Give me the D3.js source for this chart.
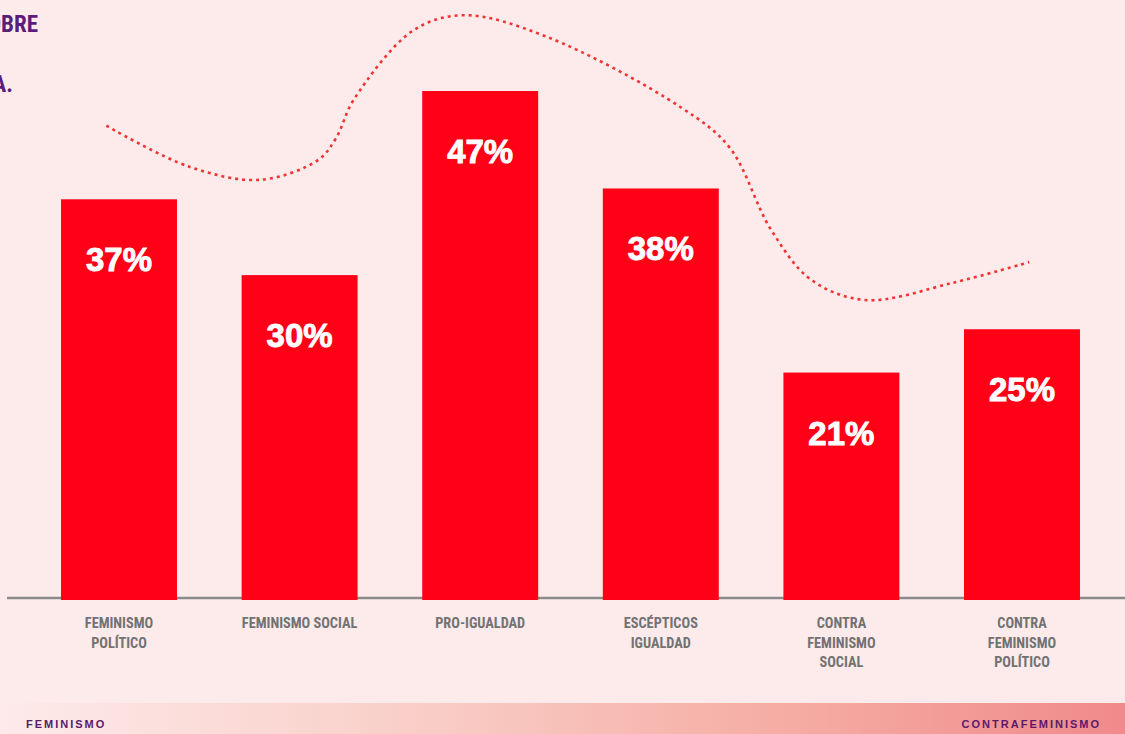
<!DOCTYPE html>
<html lang="es">
<head>
<meta charset="utf-8">
<script src="https://cdn.jsdelivr.net/npm/d3@7"></script>
<style>
  html, body { margin: 0; padding: 0; background: #fdebeb; overflow: hidden; }
  svg { display: block; }
  .narrow { font-family: "Liberation Sans Narrow", "Roboto Condensed", "DejaVu Sans Condensed", "Roboto", sans-serif; }
</style>
</head>
<body>
<svg id="chart" width="1125" height="734"></svg>
<script>
// Categories (one entry per bar, tick label lines)
const categories = ["fem_pol", "fem_soc", "pro_igu", "esc_igu", "contra_soc", "contra_pol"];
const tickLabels = [
  ["FEMINISMO", "POLÍTICO"],
  ["FEMINISMO SOCIAL"],
  ["PRO-IGUALDAD"],
  ["ESCÉPTICOS", "IGUALDAD"],
  ["CONTRA", "FEMINISMO", "SOCIAL"],
  ["CONTRA", "FEMINISMO", "POLÍTICO"]
];
// Share of respondents per profile (%)
const values = [37, 30, 47, 38, 21, 25];

// Decorative trend curve: position along the category axis (index) and level (%)
const trendIndex = [-0.07, 0.39, 0.78, 1.10, 1.20, 1.30, 1.63, 1.91, 2.37, 3.11, 3.38, 3.61, 3.83, 4.13, 4.62, 5.04];
const trendLevel = [43.8, 40.0, 38.8, 40.6, 42.6, 46.2, 52.6, 54.0, 52.0, 45.5, 41.8, 34.2, 29.6, 27.7, 29.3, 31.2];

const W = 1125, H = 734;
const svg = d3.select("#chart");

// Background
svg.append("rect").attr("width", W).attr("height", H).attr("fill", "#fdebeb");

// Scales
const x = d3.scaleBand()
  .domain(categories)
  .range([28.7, 1112.3])
  .paddingInner(0.358)
  .paddingOuter(0.179);

const y = d3.scaleLinear().domain([0, 47]).range([600, 91]);

const xIdx = d3.scaleLinear()
  .domain([0, categories.length - 1])
  .range([x(categories[0]) + x.bandwidth() / 2, x(categories[categories.length - 1]) + x.bandwidth() / 2]);

// Baseline
svg.append("line")
  .attr("x1", 7).attr("x2", W)
  .attr("y1", y(0) - 2).attr("y2", y(0) - 2)
  .attr("stroke", "#8a8a8a").attr("stroke-width", 2.5);

// Bars
svg.append("g").selectAll("rect")
  .data(values)
  .join("rect")
  .attr("x", (d, i) => x(categories[i]))
  .attr("y", d => y(d))
  .attr("width", x.bandwidth())
  .attr("height", d => y(0) - y(d))
  .attr("fill", "#ff0016");

// Value labels inside bars
svg.append("g").selectAll("text")
  .data(values)
  .join("text")
  .attr("x", (d, i) => x(categories[i]) + x.bandwidth() / 2)
  .attr("y", d => y(d) + 72)
  .attr("text-anchor", "middle")
  .attr("fill", "#ffffff")
  .attr("stroke", "#ffffff")
  .attr("stroke-width", 0.9)
  .attr("font-family", "'Liberation Sans', Arial, sans-serif")
  .attr("font-weight", "bold")
  .attr("font-size", 33)
  .text(d => d + "%");

// Trend curve (dotted)
const trend = trendIndex.map((t, i) => [xIdx(t), y(trendLevel[i])]);
svg.append("path")
  .datum(trend)
  .attr("d", d3.line().curve(d3.curveCatmullRom.alpha(0.5)))
  .attr("fill", "none")
  .attr("stroke", "#f03434")
  .attr("stroke-width", 2.6)
  .attr("stroke-dasharray", "3,4");

// Category axis labels
const xAxis = svg.append("g")
  .attr("transform", `translate(0,${y(0)})`)
  .call(d3.axisBottom(x).tickSize(0).tickFormat(""));
xAxis.select(".domain").remove();
xAxis.selectAll(".tick").each(function (d, i) {
  const t = d3.select(this).append("text")
    .attr("class", "narrow")
    .attr("text-anchor", "middle")
    .attr("fill", "#727272")
    .attr("font-size", 14.3)
    .attr("font-weight", "bold")
    .attr("y", 28);
  tickLabels[i].forEach((line, k) => {
    t.append("tspan").attr("x", 0).attr("dy", k === 0 ? 0 : 19.5).text(line);
  });
});

// Title (runs off the left edge)
const title = svg.append("g").attr("class", "narrow")
  .attr("fill", "#5b1d7c").attr("font-size", 23).attr("font-weight", "bold");
title.append("text").attr("x", 38).attr("y", 32).attr("text-anchor", "end").text("SOBRE");
title.append("text").attr("x", 13).attr("y", 92).attr("text-anchor", "end").text("ESPAÑA.");

// Bottom gradient band
const defs = svg.append("defs");
const grad = defs.append("linearGradient").attr("id", "band").attr("x1", "0%").attr("x2", "100%");
grad.append("stop").attr("offset", "0%").attr("stop-color", "#fdeaea");
grad.append("stop").attr("offset", "35%").attr("stop-color", "#f9d0c9");
grad.append("stop").attr("offset", "70%").attr("stop-color", "#f5aca3");
grad.append("stop").attr("offset", "100%").attr("stop-color", "#f08a8a");
svg.append("rect").attr("x", 0).attr("y", 703).attr("width", W).attr("height", H - 703).attr("fill", "url(#band)");

const ends = svg.append("g")
  .attr("font-family", "'Liberation Sans', Arial, sans-serif")
  .attr("font-size", 11).attr("font-weight", "bold")
  .attr("letter-spacing", 2.0).attr("fill", "#5a1a6c");
ends.append("text").attr("x", 26).attr("y", 728).text("FEMINISMO");
ends.append("text").attr("x", 1101).attr("y", 728).attr("text-anchor", "end").text("CONTRAFEMINISMO");
</script>
</body>
</html>
